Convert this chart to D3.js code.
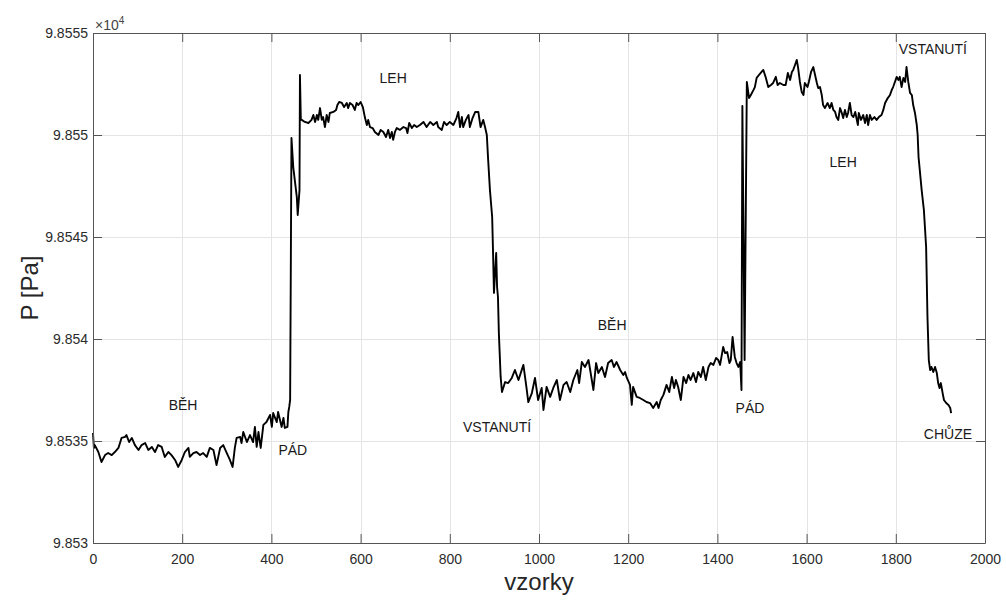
<!DOCTYPE html>
<html>
<head>
<meta charset="utf-8">
<script src="https://cdn.jsdelivr.net/npm/d3@7"></script>
<style>
  html, body { margin: 0; padding: 0; background: #fff; }
  svg { display: block; font-family: "Liberation Sans", Arial, Helvetica, sans-serif; }
</style>
</head>
<body>
<svg id="chart" width="1006" height="603"></svg>
<script>
// ---------------- data ----------------
const samples = [
  0,2,4,12,19,27,34,42,49,57,64,72,75,81,87,94,102,109,117,124,132,139,146,154,161,169,176,184,191,199,206,214,217,225,232,240,247,255,262,270,277,285,292,300,307,313,318,322,330,333,337,345,352,359,363,367,371,376,382,389,397,401,404,412,415,423,427,430,436,438,440,442,445,449,457,459,463,464,466,
  468,475,483,490,494,498,502,505,509,513,516,520,524,528,531,539,545,548,552,558,563,569,572,576,582,587,591,595,600,605,610,614,617,621,627,632,640,645,651,657,662,666,670,673,677,681,688,696,702,705,709,715,720,726,733,741,748,756,763,771,774,782,787,793,800,808,815,819,823,827,830,836,842,845,851,857,864,869,875,879,883,
  886,890,895,897,899,904,906,908,910,914,917,
  924,931,939,946,954,965,972,976,984,991,998,1006,1010,1017,1025,1032,1040,1047,1055,1062,1070,1077,1086,1090,1096,1103,1111,1114,1122,1128,1133,1141,1148,1155,1163,1168,1174,1182,1189,1193,1197,1204,1208,1211,1219,1226,1234,1241,1249,1256,1264,1268,1273,1279,1286,1292,1298,1303,1307,1312,1318,1324,1330,1335,1340,1346,1352,1357,1363,1368,1374,1380,1385,1391,1397,1402,1406,1413,1417,1422,1427,1430,1434,1439,1443,1447,1451,1454,
  1456,1461,1466,1471,
  1475,1481,1484,1488,1493,1499,1503,1508,1514,1520,1525,1531,1535,1540,1548,1553,1558,1563,1567,1570,1574,1578,1581,1585,1589,1593,1596,1602,1605,1610,1615,1619,1623,1626,1630,1634,1637,1641,1647,1652,1656,1660,1664,1667,1671,1675,1679,1682,1686,1690,1693,1697,1701,1705,1709,1715,1717,1722,1727,1731,1735,1738,1742,1746,1752,1757,1762,1768,1772,1776,1782,1787,1791,1794,1798,1802,1806,1809,1813,1817,1821,1824,1828,1832,1836,1839,1843,1847,1849,
  1851,1858,1863,1868,1871,1874,1877,1880,1884,1888,1892,1895,1898,1901,1905,1908,1913,1918,1922,1924
];
const pressure = [
  98535.39,98534.66,98534.80,98534.46,98533.97,98534.31,98534.41,98534.31,98534.46,98534.66,98535.15,98535.20,98535.29,98534.95,98535.15,98534.80,98534.56,98534.80,98534.90,98534.56,98534.71,98534.46,98534.80,98534.71,98534.22,98534.46,98534.31,98534.07,98533.73,98534.07,98534.46,98534.66,98534.22,98534.41,98534.46,98534.31,98534.41,98534.22,98534.66,98534.56,98533.82,98534.66,98534.80,98534.41,98534.07,98533.73,98534.66,98535.15,98535.20,98534.90,98535.44,98534.95,98535.29,98534.95,98535.69,98534.71,98535.44,98534.66,98535.79,98535.93,98536.28,98535.69,98536.37,98535.93,98536.42,98535.69,98536.13,98535.64,98535.69,98536.42,98536.67,98537.01,98549.85,98548.43,98546.96,98546.08,98547.30,98552.94,98550.74,
  98550.74,98550.64,98550.59,98550.74,98550.98,98550.64,98550.98,98550.74,98551.32,98550.74,98550.88,98550.39,98550.98,98550.64,98551.08,98551.13,98551.23,98551.47,98551.62,98551.57,98551.37,98551.57,98551.32,98551.57,98551.47,98551.23,98551.57,98551.47,98551.62,98551.37,98550.83,98550.49,98550.74,98550.39,98550.34,98550.15,98550.00,98550.25,98550.15,98549.90,98550.25,98549.85,98550.15,98549.76,98550.15,98550.34,98550.25,98550.39,98550.34,98550.10,98550.59,98550.34,98550.49,98550.39,98550.49,98550.64,98550.39,98550.64,98550.49,98550.64,98550.39,98550.25,98550.64,98550.49,98550.64,98550.49,98550.83,98551.13,98550.39,98550.88,98550.39,98550.74,98550.98,98550.39,98550.83,98551.13,98551.13,98550.39,98550.74,98550.39,98550.00,
  98548.78,98547.30,98545.98,98544.22,98542.26,98544.22,98542.55,98542.06,98540.29,98538.14,98537.40,
  98537.89,98537.84,98538.09,98538.48,98537.99,98538.73,98537.60,98536.91,98537.35,98538.09,98537.01,98537.60,98536.52,98537.65,98537.16,98537.60,98537.99,98537.01,98537.75,98537.89,98537.40,98537.99,98538.48,98537.84,98538.87,98538.63,98538.97,98538.58,98537.50,98538.82,98538.33,98538.63,98538.14,98538.82,98538.97,98538.63,98538.87,98538.48,98538.24,98538.38,98538.09,98537.75,98536.77,98537.65,98537.16,98537.11,98537.01,98536.91,98536.86,98536.62,98536.91,98536.62,98537.01,98537.26,98537.75,98537.40,98538.14,98537.60,98537.99,98537.65,98537.01,98538.14,98537.84,98538.24,98537.99,98538.33,98537.89,98538.38,98538.14,98538.63,98537.99,98538.63,98538.82,98538.73,98539.07,98538.97,98538.73,98539.61,98539.31,98539.36,98538.82,98538.97,98540.10,98539.12,98538.82,98538.63,98538.87,98537.50,
  98551.42,98538.97,98552.60,98551.81,
  98551.96,98552.21,98552.35,98552.80,98552.94,98553.09,98553.19,98552.85,98552.35,98552.45,98552.55,98552.85,98552.45,98552.55,98552.45,98552.45,98553.04,98552.70,98553.09,98553.19,98553.43,98553.68,98553.29,98552.60,98552.11,98551.96,98552.55,98552.35,98552.60,98553.09,98553.33,98552.94,98552.55,98552.30,98552.35,98551.96,98551.47,98551.32,98551.57,98551.32,98551.57,98551.23,98551.13,98550.88,98550.74,98551.32,98551.08,98550.83,98551.23,98550.88,98551.08,98551.57,98550.98,98550.88,98551.13,98550.49,98551.08,98550.74,98550.98,98550.59,98550.98,98550.49,98550.98,98550.74,98550.88,98550.74,98550.88,98550.98,98551.23,98551.57,98551.81,98551.96,98552.21,98552.35,98552.60,98552.85,98552.70,98552.85,98552.35,98552.80,98552.60,98553.33,98552.60,98552.06,98551.96,98551.47,98551.08,98550.49,98550.00,
  98548.92,98547.30,98546.32,98544.51,98541.08,98538.97,98538.48,98538.63,98538.38,98538.63,98538.33,98537.84,98537.60,98537.84,98537.35,98537.01,98536.86,98536.77,98536.62,98536.37
];

const xTicks = [0,200,400,600,800,1000,1200,1400,1600,1800,2000];
const xTickLabels = ["0","200","400","600","800","1000","1200","1400","1600","1800","2000"];
const yTicks = [98530,98535,98540,98545,98550,98555];
const yTickLabels = ["9.853","9.8535","9.854","9.8545","9.855","9.8555"];

const annoLabels  = ["BĚH","PÁD","LEH","VSTANUTÍ","BĚH","PÁD","VSTANUTÍ","LEH","CHŮZE"];
const annoSamples = [202,448,673,906,1164,1473,1883,1682,1917];
const annoValues  = [98536.77,98534.56,98552.79,98535.69,98540.69,98536.62,98554.22,98548.68,98535.34];

const xLabel = "vzorky";
const yLabel = "P [Pa]";
const exponentBase = "\u00D710";
const exponentPower = "4";

// ---------------- drawing ----------------
const svg = d3.select("#chart");
const L = 93, R = 985, T = 33, B = 543;
const x = d3.scaleLinear().domain([0,2000]).range([L,R]);
const y = d3.scaleLinear().domain([98530,98555]).range([B,T]);

svg.append("rect").attr("width",1006).attr("height",603).attr("fill","#fff");

// grid
const grid = svg.append("g").attr("stroke","#e4e4e4").attr("stroke-width",1).attr("shape-rendering","crispEdges");
grid.selectAll(".gx").data(xTicks.slice(1,-1)).join("line")
  .attr("x1",d=>Math.round(x(d))+0.5).attr("x2",d=>Math.round(x(d))+0.5).attr("y1",T).attr("y2",B);
grid.selectAll(".gy").data(yTicks.slice(1,-1)).join("line")
  .attr("y1",d=>Math.round(y(d))+0.5).attr("y2",d=>Math.round(y(d))+0.5).attr("x1",L).attr("x2",R);

// data line
const pts = samples.map((s,i)=>[s,pressure[i]]);
const line = d3.line().x(d=>x(d[0])).y(d=>y(d[1]));
svg.append("path").datum(pts).attr("d",line)
  .attr("fill","none").attr("stroke","#000").attr("stroke-width",1.9).attr("stroke-linejoin","round");

// axes
const axisColor = "#555";
const tickColor = "#2b2b2b";
function styleAxis(g){
  g.select(".domain").attr("stroke",axisColor);
  g.selectAll(".tick line").attr("stroke",axisColor);
  g.selectAll(".tick text").attr("fill",tickColor).attr("font-size",14)
    .attr("font-family",'"Liberation Sans", Arial, sans-serif');
}
const xb = svg.append("g").attr("transform",`translate(0,${B})`)
  .call(d3.axisBottom(x).tickValues(xTicks).tickFormat((d,i)=>xTickLabels[i]).tickSize(-9).tickSizeOuter(0).tickPadding(11));
styleAxis(xb);
const xt = svg.append("g").attr("transform",`translate(0,${T})`)
  .call(d3.axisTop(x).tickValues(xTicks).tickFormat("").tickSize(-9).tickSizeOuter(0));
styleAxis(xt);
const yl = svg.append("g").attr("transform",`translate(${L},0)`)
  .call(d3.axisLeft(y).tickValues(yTicks).tickFormat((d,i)=>yTickLabels[i]).tickSize(-9).tickSizeOuter(0).tickPadding(5));
styleAxis(yl);
const yr = svg.append("g").attr("transform",`translate(${R},0)`)
  .call(d3.axisRight(y).tickValues(yTicks).tickFormat("").tickSize(-9).tickSizeOuter(0));
styleAxis(yr);

// exponent
const ex = svg.append("text").attr("x",L+2).attr("y",T-3).attr("fill","#444").attr("font-size",14);
ex.append("tspan").text(exponentBase);
ex.append("tspan").attr("dy",-6).attr("font-size",10).text(exponentPower);

// annotations
svg.append("g").selectAll("text").data(annoLabels).join("text")
  .attr("x",(d,i)=>x(annoSamples[i])).attr("y",(d,i)=>y(annoValues[i]))
  .attr("dy","0.36em").attr("text-anchor","middle").attr("font-size",14).attr("fill","#1a1a1a")
  .text(d=>d);

// axis labels
svg.append("text").attr("x",(L+R)/2).attr("y",590).attr("text-anchor","middle")
  .attr("font-size",24).attr("fill","#262626").text(xLabel);
svg.append("text").attr("transform",`translate(38,${(T+B)/2}) rotate(-90)`).attr("text-anchor","middle")
  .attr("font-size",24).attr("fill","#262626").text(yLabel);
</script>
</body>
</html>
